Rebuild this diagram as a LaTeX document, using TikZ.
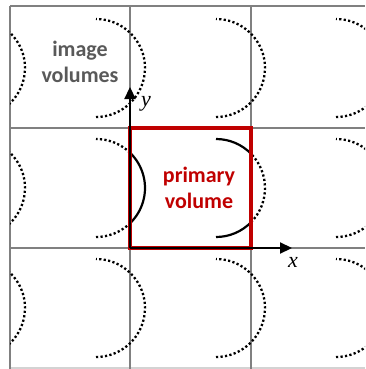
\documentclass[tikz,border=0pt]{standalone}
\usepackage{fontspec}
\setmainfont{Carlito}
\newfontfamily\axisfont{Liberation Serif}
\usetikzlibrary{arrows.meta}
\definecolor{gridgray}{HTML}{808080}
\definecolor{labelgray}{HTML}{595959}
\definecolor{primred}{HTML}{C00000}
\tikzset{
  gridline/.style={draw=gridgray, line width=1.3pt},
  dotarc/.style={draw=black, line width=2.3pt, dash pattern=on 2.2pt off 2.3pt},
  solidarc/.style={draw=black, line width=2.2pt},
  axis/.style={draw=black, line width=2.2pt, -{Triangle[length=12pt,width=11pt]}},
  biglabel/.style={font=\fontsize{22}{26}\selectfont\bfseries, align=center},
  axislabel/.style={font=\axisfont\itshape\fontsize{22}{22}\selectfont},
}
\begin{document}
\begin{tikzpicture}[x=1pt,y=-1pt]
\useasboundingbox (0,0) rectangle (365,369);
% grid
\foreach \yy in {6,128,248} \draw[gridline] (10,\yy) -- (365,\yy);
\draw[gridline, draw=gridgray!35] (10,368) -- (365,368);
\foreach \xx in {10,130,251} \draw[gridline] (\xx,6) -- (\xx,369);
% dotted image arcs
\begin{scope}
\clip (10,6) rectangle (365,369);
\foreach \cy in {68,308} {
  \foreach \cx in {-24,96,216,336} {
    \draw[dotarc] (\cx,\cy) ++(90:49) arc[start angle=90, end angle=-90, radius=49];
  }
}
\draw[dotarc] (-24,188) ++(90:49) arc[start angle=90, end angle=-90, radius=49];
\draw[dotarc] (336,188) ++(90:49) arc[start angle=90, end angle=-90, radius=49];
% partially in primary cell
\draw[dotarc] (96,188) ++(90:49) arc[start angle=90, end angle=46, radius=49];
\draw[dotarc] (96,188) ++(-46:49) arc[start angle=-46, end angle=-90, radius=49];
\draw[dotarc] (216,188) ++(44.4:49) arc[start angle=44.4, end angle=-44.4, radius=49];
\end{scope}
% solid parts inside primary
\draw[solidarc] (96,188) ++(46:49) arc[start angle=46, end angle=-46, radius=49];
\draw[solidarc] (216,188) ++(90:49) arc[start angle=90, end angle=44.4, radius=49];
\draw[solidarc] (216,188) ++(-44.4:49) arc[start angle=-44.4, end angle=-90, radius=49];
% primary volume
\draw[draw=primred, line width=3.2pt] (130,128) rectangle (251,248);
% axes
\coordinate (O) at (130,248);
\coordinate (ytip) at (130,87);
\coordinate (xtip) at (292,248);
\draw[axis] (O) -- (ytip);
\draw[axis] (O) -- (xtip);
\node[axislabel] (ylab) at (146,104) {y};
\node[axislabel] (xlab) at (293,262) {x};
% labels
\node[biglabel, text=labelgray] (img) at (80,62) {image\\volumes};
\node[biglabel, text=primred] (prim) at (199,188) {primary\\volume};
\end{tikzpicture}
\end{document}
